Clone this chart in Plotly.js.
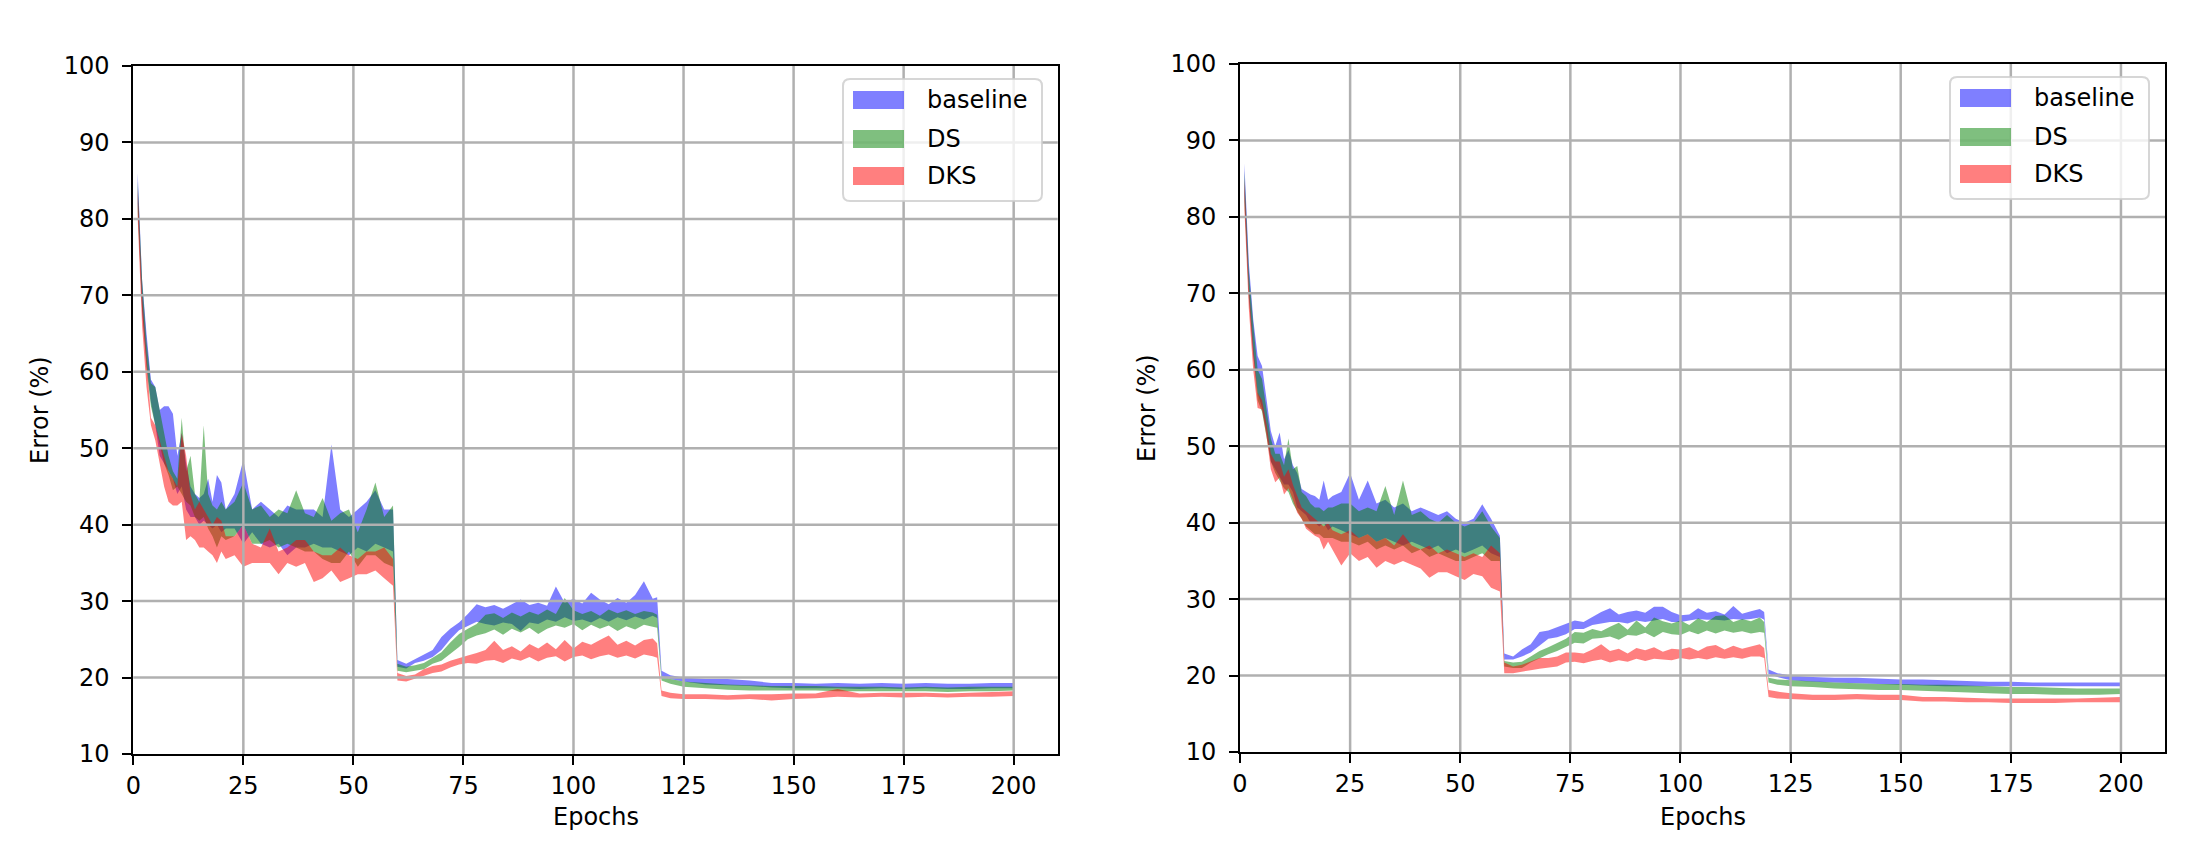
<!DOCTYPE html>
<html><head><meta charset="utf-8">
<script src="https://cdn.plot.ly/plotly-3.0.1.min.js"></script>
<style>html,body{margin:0;padding:0;background:#fff}#chart{width:2210px;height:846px}</style>
</head><body><div id="chart"></div>
<script>
// ---------------- DATA ----------------
const epochs = [1,2,3,4,5,6,7,8,9,10,11,12,13,14,15,16,17,18,19,20,
  21,23,25,27,29,31,33,35,37,39,41,43,45,47,49,51,53,55,57,59,
  60,62,64,66,68,70,72,74,76,78,80,82,84,86,88,90,92,94,96,98,100,102,104,106,108,110,112,114,116,118,119,
  120,122,125,130,135,140,145,150,155,160,165,170,175,180,185,190,195,200];

const seriesNames = ['baseline', 'DS', 'DKS'];

// Left panel
const left_baseline_upper = [86,72,65,59,58,55,55.5,55.5,54.5,49,52,48,45,44,43.5,44,46,43,46.5,45.5,
  42,44,48.5,42,43,42,41,42.5,42,42,42,41,50.5,42,41,42,43,44.5,42,42,
  22.3,21.8,22.4,22.9,23.6,25.3,26.4,27.2,28.3,29.6,29.2,29.5,29,29.6,30.2,29.5,29.8,29.4,31.9,29.8,30.3,29.7,31.1,30.2,29.6,30.4,29.8,30.8,32.6,30.3,30.5,
  20.9,20.3,20,19.8,19.8,19.6,19.3,19.3,19.2,19.3,19.2,19.3,19.2,19.3,19.2,19.2,19.3,19.3];
const left_baseline_lower = [82,68,61,56,53,49,48,47,46,44,45,42,41,41,40,40.5,40,39.5,40,39,
  39.5,39.5,37.5,39,37.5,37,37.5,36,37,37,37.5,37,37,36.5,36,37,36.5,37.5,37,36.5,
  21.4,21.2,21.9,22.2,22.7,23.6,25,26.2,26.8,27.3,27,26.8,27.2,27,26.1,27.2,27,27.6,27.3,27.9,27.4,27.6,27.2,27.8,27.3,27.9,27.5,28,27.6,28.1,27.8,
  20.2,19.8,19.5,19.1,19,18.9,18.7,18.6,18.6,18.6,18.5,18.6,18.5,18.6,18.5,18.5,18.6,18.6];
const left_ds_upper = [85,72,64,58.5,58,55,52,49,47,46,54,47,49,44,43,53,44,42.5,42,43,
  42,43,45.5,42,42.5,41,42,41.5,44.5,41.5,41,43.5,40.5,41.5,42,39,42,45.5,41,42.5,
  21.8,21.4,21.6,21.9,22.6,23.3,24.6,25.7,26.4,27,28.2,28.4,27.8,28.5,28,28.6,28.2,28.9,28.3,30.4,28.8,28.3,28.7,28.1,28.9,28.4,28.8,28.3,28.7,28.5,28.2,
  20.2,19.8,19.5,19.3,19.1,19,18.9,18.9,18.9,18.8,18.8,18.8,18.7,18.8,18.7,18.8,18.8,18.8];
const left_ds_lower = [81,68,60.5,55.5,53,50.5,48,46.5,44.5,45,44,43,42.5,41,40.5,41,39.5,38.5,37,38.5,
  38,38.5,40,37.5,37.5,38,37,37.5,37,36.5,36.5,35.5,35,35,36.5,34.5,36,36,35,34.5,
  20.9,20.7,20.9,21.1,21.8,22.2,23.1,24,25,25.5,25.8,26.3,25.6,26.4,25.9,26.5,25.7,26.4,26.8,26.5,27,26.2,26.9,26.4,26.8,26.1,26.7,26.3,26.9,26.6,26.5,
  19.6,19.2,18.8,18.6,18.4,18.3,18.3,18.3,18.3,18.2,18.2,18.2,18.2,18.2,18.1,18.2,18.2,18.3];
const left_dks_upper = [84,70,62,54,53,51,49,47,46,45,52,49,44,42,43,42,41,40,41,40.5,
  38.5,38.5,40,37.5,37,39.5,36.5,37,38,38,36.5,36,36,37,36,35.5,36.5,36.5,37,35.5,
  20.6,20.2,20.4,21.1,21.5,21.7,22.2,22.6,22.9,23.2,23.6,24.8,23.6,24.1,23.4,24.4,23.8,24.6,23.7,24.9,23.8,24.7,24.3,24.9,25.5,24.3,24.8,24.2,24.9,25.1,24.5,
  18.3,18,17.8,17.8,17.7,17.8,17.8,17.9,17.9,18.5,17.9,18,18,18,17.9,18,18.1,18.2];
const left_dks_lower = [80,66,58,53,51,48,45,43,42.5,42.5,43,38,38.5,38,37,37,36.5,36,35,36.5,
  35.5,36,34.5,35,35,35,33.5,35,34.5,35,32.5,33,34,32.5,33,33.5,33.5,34,33,32,
  19.6,19.5,19.8,20.2,20.6,20.8,21.3,21.7,21.9,21.8,22.2,22.3,21.9,22.5,22.2,22.7,22.1,22.6,22.8,22.1,22.7,22.9,22.4,22.8,23,22.6,22.9,22.5,23,22.8,22.6,
  17.6,17.3,17.2,17.2,17.1,17.2,17,17.2,17.3,17.5,17.4,17.5,17.4,17.5,17.4,17.5,17.5,17.6];

// Right panel
const right_baseline_upper = [87,74,66.6,61.8,60.5,56.5,52,50,51.8,48.3,49.5,47.5,46.5,44.4,44,43.7,43.5,43,45.5,43,
  43.5,44,46.5,43,45.5,42.5,43,42,42.5,41.5,42,41.5,41,41.5,40.5,40,40.5,42.4,40.5,38.3,
  22.9,22.5,23.4,24.1,25.7,25.9,26.3,26.8,27.2,27,27.7,28.3,28.8,28,28.3,28.5,28.2,29,29,28.3,27.9,28,28.8,28.2,28.4,28,29.1,28.1,28.4,28.7,28.3,
  20.8,20.3,20,19.8,19.7,19.7,19.6,19.5,19.5,19.4,19.3,19.2,19.2,19.1,19.1,19.1,19.1,19.1];
const right_baseline_lower = [83,70,62,57,55,52,48,47,46,45,45,44,42,41.5,41,40,40,39.5,40,39,
  39.5,39,38.5,38,38.5,37.5,38,37.5,37,37.5,37,36.5,37,36,36.5,36,36.5,37,36,35.5,
  22.1,22.1,22.5,23,23.9,24.8,25,25.4,26.1,26.1,26.6,26.8,27,27,26.8,27.2,27,27.2,27.4,27,27,27.2,27.4,27.3,27.3,27.2,27.4,27.3,27.4,27.6,27.3,
  20.2,19.8,19.4,19.2,19.1,19,18.9,18.8,18.7,18.6,18.6,18.6,18.6,18.6,18.6,18.6,18.6,18.6];
const right_ds_upper = [86,73,66,60,58.8,55,51,49,49,47.5,51,47,47.4,44,43.5,42.5,42,42,41.5,42,
  42,42.5,42.5,41.5,42,41.5,44.8,41,45.5,41,41.5,40.5,40,41,40,39.5,40,41.5,39.5,38,
  21.9,21.7,21.8,22.5,23.2,23.7,24.3,24.8,25.7,25.6,26.1,25.8,26.4,26.9,26,27.2,26.3,27.6,27.1,26.8,27.2,26.6,27.5,27,27.8,27.9,27,27.4,27.1,27.6,27,
  19.7,19.5,19.4,19.2,19.1,19,18.9,18.9,18.8,18.8,18.7,18.6,18.5,18.5,18.4,18.3,18.3,18.3];
const right_ds_lower = [82,69.5,62,56,54.5,51.5,48,46.5,45.5,44.5,44,42.5,41.5,40.5,39.5,39,38.5,38.5,38,38,
  38,37.5,37.5,37,37.5,36.5,37,36.5,37,36,36.5,35.5,36,35.5,35,35,35.5,36,35,35,
  21.2,21,21,21.7,22.3,22.8,23.2,23.7,24.3,24.2,24.8,24.9,25.1,24.7,25.3,25.2,25.6,25,25.7,25.4,25.3,25.8,25.4,25.9,25.5,25.9,25.6,25.8,25.5,25.7,25.6,
  19.1,18.8,18.6,18.5,18.3,18.2,18.1,18.1,18,17.9,17.8,17.7,17.6,17.6,17.5,17.5,17.5,17.6];
const right_dks_upper = [85,71,63,57,56,53,49,48,48,46,47,45,43.5,42,41.5,41,40.5,40,39.5,40,
  39,38.5,39,38,38.5,37.5,38,37,38.5,37,36.5,37,36,36.5,36,35.5,36,35.5,37,36,
  21.7,21.2,21.4,21.8,22.3,22.3,22.5,23,23,22.9,23.4,24.1,23.2,23.5,22.9,23.6,23.3,23.7,23.1,23.5,23.4,23.7,23.2,23.8,24,23.4,23.9,23.5,23.8,24.1,23.6,
  18.1,17.9,17.7,17.5,17.5,17.6,17.5,17.5,17.2,17.2,17.1,17,17,17,17,17,17.1,17.2];
const right_dks_lower = [81,68,60,55,54.8,51.4,47,45.3,45.9,43.7,44.5,43,41.3,40.5,39.2,38.8,38.3,38,36.5,37.5,
  36.5,34.4,36,35,35.5,34.1,35,34.5,35,34.5,34,32.8,33.5,33.5,33,32.5,33.3,33,31.5,31,
  20.3,20.3,20.5,20.7,20.9,21,21.2,21.7,21.8,21.6,21.9,22.1,21.7,22,21.8,22.2,21.9,22.2,22.1,22,22.3,22.1,22.3,22.1,22.4,22.2,22.4,22.2,22.5,22.5,22.3,
  17.2,17,16.9,16.8,16.8,16.9,16.8,16.8,16.6,16.6,16.5,16.5,16.4,16.4,16.4,16.5,16.5,16.5];

const xTicks = [0,25,50,75,100,125,150,175,200];
const yTicks = [10,20,30,40,50,60,70,80,90,100];
const xLabel = 'Epochs';
const yLabel = 'Error (%)';

// ---------------- STYLE / LAYOUT ----------------
const W = 2210, H = 846;
const FONT = 'DejaVu Sans, Liberation Sans, sans-serif';
const colors = ['rgba(0,0,255,0.5)', 'rgba(0,128,0,0.5)', 'rgba(255,0,0,0.5)'];
const panels = [
  {xa:'x', ya:'y', l:133.3, r:1057.7, t:66, b:754,
   bands:[[left_baseline_upper,left_baseline_lower],[left_ds_upper,left_ds_lower],[left_dks_upper,left_dks_lower]],
   leg:{l:843, t:79}, ytitleX:40},
  {xa:'x2', ya:'y2', l:1240, r:2165, t:64, b:752,
   bands:[[right_baseline_upper,right_baseline_lower],[right_ds_upper,right_ds_lower],[right_dks_upper,right_dks_lower]],
   leg:{l:1950, t:77}, ytitleX:1147}
];
const px = v => v / W;
const py = v => 1 - v / H;

const traces = [];
panels.forEach(p => {
  p.bands.forEach((b, i) => {
    traces.push({
      type:'scatter', mode:'lines',
      x: epochs.concat(epochs.slice().reverse()),
      y: b[0].concat(b[1].slice().reverse()),
      fill:'toself', fillcolor: colors[i],
      line:{width:0, color: colors[i]},
      xaxis:p.xa, yaxis:p.ya, name: seriesNames[i],
      showlegend:false, hoverinfo:'skip'
    });
  });
});

function axisX(p, anchor) {
  return {domain:[px(p.l), px(p.r)], range:[0,210], anchor:anchor,
    tickmode:'array', tickvals:xTicks, ticktext:xTicks.map(String),
    ticks:'outside', ticklen:9, tickwidth:2, tickcolor:'#000',
    showline:true, linecolor:'#000', linewidth:2, mirror:true,
    showgrid:false, zeroline:false, fixedrange:true,
    tickfont:{family:FONT, size:24, color:'#000'}};
}
function axisY(p, anchor) {
  return {domain:[py(p.b), py(p.t)], range:[10,100], anchor:anchor,
    tickmode:'array', tickvals:yTicks, ticktext:yTicks.map(String),
    ticks:'outside', ticklen:9, tickwidth:2, tickcolor:'#000',
    showline:true, linecolor:'#000', linewidth:2, mirror:true,
    showgrid:false, zeroline:false, fixedrange:true, ticklabelstandoff:8,
    tickfont:{family:FONT, size:24, color:'#000'}};
}

const shapes = [];
const annotations = [];
panels.forEach(p => {
  const xr = p.xa, yr = p.ya;
  xTicks.filter(t => t > 0 && t < 210).forEach(t => shapes.push({type:'line', xref:xr, yref:yr + ' domain',
    x0:t, x1:t, y0:0, y1:1, line:{color:'#b0b0b0', width:2.5}, layer:'above'}));
  yTicks.filter(t => t > 10 && t < 100).forEach(t => shapes.push({type:'line', xref:xr + ' domain', yref:yr,
    x0:0, x1:1, y0:t, y1:t, line:{color:'#b0b0b0', width:2.5}, layer:'above'}));
  // legend frame (rounded)
  const L = p.leg.l, T = p.leg.t, R = L + 199, B = T + 122, r = 7;
  const path = `M ${px(L+r)},${py(T)} L ${px(R-r)},${py(T)} Q ${px(R)},${py(T)} ${px(R)},${py(T+r)} ` +
    `L ${px(R)},${py(B-r)} Q ${px(R)},${py(B)} ${px(R-r)},${py(B)} L ${px(L+r)},${py(B)} ` +
    `Q ${px(L)},${py(B)} ${px(L)},${py(B-r)} L ${px(L)},${py(T+r)} Q ${px(L)},${py(T)} ${px(L+r)},${py(T)} Z`;
  shapes.push({type:'path', xref:'paper', yref:'paper', path:path,
    fillcolor:'rgba(255,255,255,0.8)', line:{color:'rgba(204,204,204,0.8)', width:2}, layer:'above'});
  const rows = [21, 60, 97];
  seriesNames.forEach((nm, i) => {
    const cy = T + rows[i];
    shapes.push({type:'rect', xref:'paper', yref:'paper', x0:px(L+10), x1:px(L+61), y0:py(cy+9), y1:py(cy-9),
      fillcolor:colors[i], line:{width:0}, layer:'above'});
    annotations.push({xref:'paper', yref:'paper', x:px(L+82), y:py(cy), xanchor:'left', yanchor:'middle',
      text:nm, showarrow:false, font:{family:FONT, size:24, color:'#000'}});
  });
  annotations.push({xref:'paper', yref:'paper', x:px((p.l+p.r)/2), y:py(817), xanchor:'center', yanchor:'middle',
    text:xLabel, showarrow:false, font:{family:FONT, size:24, color:'#000'}});
  annotations.push({xref:'paper', yref:'paper', x:px(p.ytitleX), y:py((p.t+p.b)/2), xanchor:'center', yanchor:'middle',
    text:yLabel, textangle:-90, showarrow:false, font:{family:FONT, size:24, color:'#000'}});
});

const layout = {
  width:W, height:H, margin:{l:0, r:0, t:0, b:0},
  paper_bgcolor:'#fff', plot_bgcolor:'#fff', showlegend:false,
  font:{family:FONT, size:24, color:'#000'},
  xaxis: axisX(panels[0], 'y'), yaxis: axisY(panels[0], 'x'),
  xaxis2: axisX(panels[1], 'y2'), yaxis2: axisY(panels[1], 'x2'),
  shapes: shapes, annotations: annotations
};

Plotly.newPlot('chart', traces, layout, {staticPlot:true, displayModeBar:false});
</script>
</body></html>
